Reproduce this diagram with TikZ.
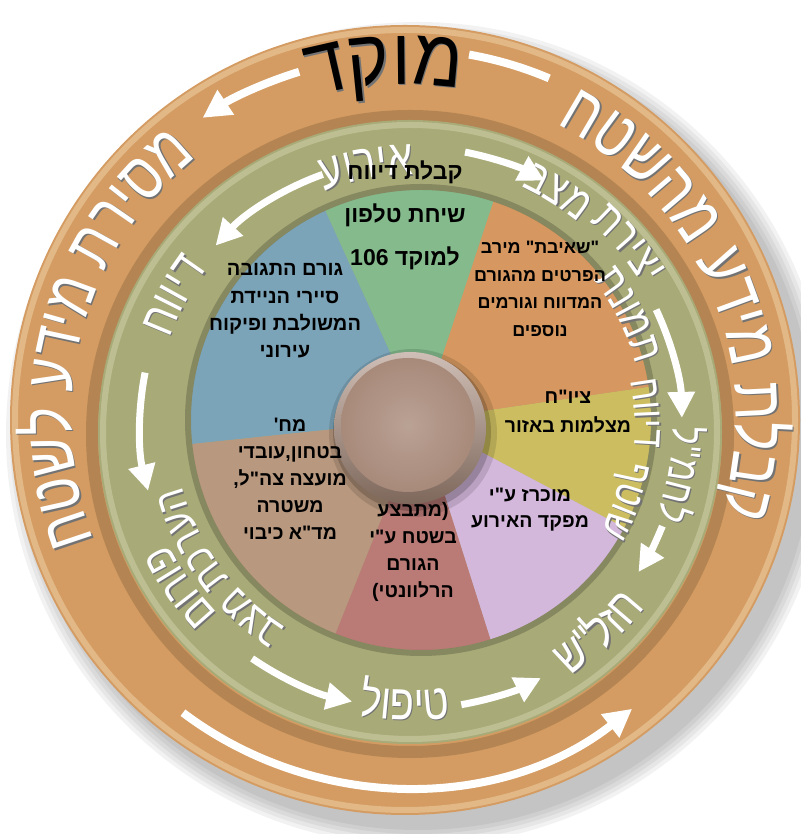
\documentclass[tikz,border=0pt]{standalone}
\usepackage{fontspec}
\usetikzlibrary{decorations.text,arrows.meta}
\TeXXeTstate=1
\newfontfamily\hebb[Script=Hebrew]{Liberation Sans}
\newfontfamily\ringf[Script=Hebrew,FakeStretch=0.8]{Liberation Sans}
\newfontfamily\outerf[Script=Hebrew,FakeStretch=0.78]{Liberation Sans}
\newfontfamily\mokf[Script=Hebrew,FakeStretch=0.9]{Liberation Sans}
\definecolor{discc}{RGB}{212,156,98}
\definecolor{discl}{RGB}{232,196,150}
\definecolor{ringc}{RGB}{168,170,120}
\definecolor{ringl}{RGB}{204,206,164}
\definecolor{sgreen}{RGB}{132,186,140}
\definecolor{sorange}{RGB}{214,152,96}
\definecolor{syellow}{RGB}{204,190,96}
\definecolor{spurple}{RGB}{212,184,220}
\definecolor{sred}{RGB}{186,122,118}
\definecolor{stan}{RGB}{184,152,126}
\definecolor{sblue}{RGB}{124,164,184}
\definecolor{hubc}{RGB}{168,138,122}
\tikzset{
  slicetxt/.style={font=\hebb\bfseries\fontsize{19.5}{27}\selectfont, align=center, text=black, inner sep=0pt},
  bigtxt/.style={font=\hebb\bfseries\fontsize{23}{23}\selectfont, text=black, inner sep=0pt},
  warrow/.style={draw=white, line width=7pt, -{Triangle[length=26pt,width=26pt]}},
  warrowO/.style={draw=white, line width=8pt, -{Triangle[length=28pt,width=28pt]}},
  wbar/.style={draw=white, line width=8pt},
}
% #1 radius, #2 start angle, #3 end angle, #4 font, #5 colour, #6 text (visual order)
\newcommand\arctext[6]{%
  \path[xshift=1.3pt,yshift=-1.3pt,decorate,decoration={text along path,text color=black!55,text align=center,text={|#4|#6}}] (#2:#1) arc[start angle=#2,end angle=#3,radius=#1pt];
  \path[decorate,decoration={text along path,text color=#5,text align=center,text={|#4|#6}}] (#2:#1) arc[start angle=#2,end angle=#3,radius=#1pt];}
\begin{document}
\begin{tikzpicture}[x=1pt,y=1pt]
\useasboundingbox (0,0) rectangle (800,834);
% shadow
\foreach \r in {396,400,404,408,412}{\fill[black,opacity=0.05] (418,400) circle (\r);}
% outer disc
\fill[discc] (405,414) circle (395);
\draw[discl,line width=6pt,opacity=0.7] (405,414) circle (390);
\draw[black,opacity=0.15,line width=12pt] (410,400) circle (318);
% outer ring arrows
\begin{scope}[shift={(405,416)}]
  \draw[warrowO] (107:362) arc[start angle=107,end angle=124,radius=362pt];
  \draw[wbar] (80:369) arc[start angle=80,end angle=67,radius=369pt];
  \draw[warrowO] (233:369) arc[start angle=233,end angle=308,radius=369pt];
\end{scope}
% outer ring texts
\begin{scope}[shift={(405,416)}]
  \arctext{334}{123.4}{63.4}{\mokf\fontsize{80}{80}\selectfont}{black}{דקומ}
  \arctext{331}{80}{-34}{\outerf\fontsize{70}{70}\selectfont}{white}{חטשהמ עדימ תלבק}
  \arctext{334}{222}{108}{\outerf\fontsize{68}{68}\selectfont}{white}{חטשל עדימ תריסמ}
\end{scope}
% green ring
\fill[ringc] (410,402) circle (312);
\draw[ringl,line width=6pt,opacity=0.6] (410,402) circle (307);
% pie
\begin{scope}[shift={(421,414)}]
  \fill[syellow] (0,0) -- (-27.9:230) arc[start angle=-27.9,end angle=8.3,radius=230pt] -- cycle;
  \fill[sorange] (0,0) -- (8.3:230) arc[start angle=8.3,end angle=71.7,radius=230pt] -- cycle;
  \fill[sgreen] (0,0) -- (71.7:230) arc[start angle=71.7,end angle=114.6,radius=230pt] -- cycle;
  \fill[sblue] (0,0) -- (114.6:230) arc[start angle=114.6,end angle=186,radius=230pt] -- cycle;
  \fill[stan] (0,0) -- (186:230) arc[start angle=186,end angle=248.2,radius=230pt] -- cycle;
  \fill[sred] (0,0) -- (248.2:230) arc[start angle=248.2,end angle=287.6,radius=230pt] -- cycle;
  \fill[spurple] (0,0) -- (287.6:230) arc[start angle=287.6,end angle=332.1,radius=230pt] -- cycle;
  \draw[black,opacity=0.2,line width=6pt] (0,0) circle (233);
\end{scope}
% ring arrows
\begin{scope}[shift={(412,409)}]
  \draw[warrow] (109.6:266) arc[start angle=109.6,end angle=137.6,radius=266pt];
  \draw[warrow] (79:278) arc[start angle=79,end angle=61.5,radius=278pt];
  \draw[warrow] (25.3:270) arc[start angle=25.3,end angle=1.5,radius=270pt];
  \draw[warrow] (-22:270) arc[start angle=-22,end angle=-33,radius=270pt];
  \draw[warrow] (280:284) arc[start angle=280,end angle=297,radius=284pt];
  \draw[warrow] (235.6:283) arc[start angle=235.6,end angle=257.8,radius=283pt];
  \draw[warrow] (168.9:272) arc[start angle=168.9,end angle=194,radius=272pt];
\end{scope}
% ring texts
\begin{scope}[shift={(412,409)}]
  \arctext{250}{125}{75}{\ringf\fontsize{50}{50}\selectfont}{white}{עוריא}
  \arctext{270}{65}{15}{\ringf\fontsize{46}{46}\selectfont}{white}{תריצי}
  \arctext{262}{83}{33}{\ringf\fontsize{46}{46}\selectfont}{white}{בצמ}
  \arctext{232}{52}{2}{\ringf\fontsize{44}{44}\selectfont}{white}{תנומת}
  \arctext{223}{28}{-22}{\ringf\fontsize{42}{42}\selectfont}{white}{חוויד}
  \arctext{216}{5}{-44}{\ringf\fontsize{42}{42}\selectfont}{white}{ףטוש}
  \arctext{261}{15}{-36}{\ringf\fontsize{42}{42}\selectfont}{white}{ל"מחל}
  \arctext{296}{-70}{-26}{\ringf\fontsize{50}{50}\selectfont}{white}{ש"לזח}
  \arctext{295}{250}{287}{\ringf\fontsize{50}{50}\selectfont}{white}{לופיט}
  \arctext{271}{240}{190}{\ringf\fontsize{46}{46}\selectfont}{white}{םורופ}
  \arctext{238}{245}{188}{\ringf\fontsize{44}{44}\selectfont}{white}{בצמ תכרעה}
  \arctext{257}{175}{128}{\ringf\fontsize{50}{50}\selectfont}{white}{חוויד}
\end{scope}
% hub
\fill[black,opacity=0.12] (413,401) circle (84);
\fill[black,opacity=0.18] (412,402) circle (79);
\shade[top color=hubc!55!white, bottom color=hubc!75!black] (410,406) circle (76);
\shade[inner color=hubc!80!white, outer color=hubc] (408,409) circle (67);
% slice texts
\node[bigtxt] (g1) at (405,662) {\beginR קבלת דיווח\endR};
\node[bigtxt] (g2) at (405,619) {\beginR שיחת טלפון\endR};
\node[bigtxt] (g3) at (405,576) {\beginR למוקד 106\endR};
\node[slicetxt,font=\hebb\bfseries\fontsize{18}{27.5}\selectfont] (o1) at (540,545) {\beginR"שאיבת" מירב\endR\\\beginR הפרטים מהגורם\endR\\\beginR המדווח וגורמים\endR\\\beginR נוספים\endR};
\node[slicetxt,font=\hebb\bfseries\fontsize{19.5}{29}\selectfont] (y1) at (568,422) {\beginR ציו"ח\endR\\\beginR מצלמות באזור\endR};
\node[slicetxt,font=\hebb\bfseries\fontsize{19.5}{26}\selectfont] (p1) at (530,324) {\beginR מוכרז ע"י\endR\\\beginR מפקד האירוע\endR};
\node[slicetxt,font=\hebb\bfseries\fontsize{19.5}{26.7}\selectfont] (r1) at (413,282) {\beginR(מתבצע\endR\\\beginR בשטח ע"י\endR\\\beginR הגורם\endR\\\beginR הרלוונטי)\endR};
\node[slicetxt] (n1) at (290,355) {\beginR מח'\endR\\\beginR בטחון,עובדי\endR\\\beginR מועצה צה"ל,\endR\\\beginR משטרה\endR\\\beginR מד"א כיבוי\endR};
\node[slicetxt,font=\hebb\bfseries\fontsize{20}{27.3}\selectfont] (b1) at (285,523) {\beginR גורם התגובה\endR\\\beginR סיירי הניידת\endR\\\beginR המשולבת ופיקוח\endR\\\beginR עירוני\endR};
\end{tikzpicture}
\end{document}
